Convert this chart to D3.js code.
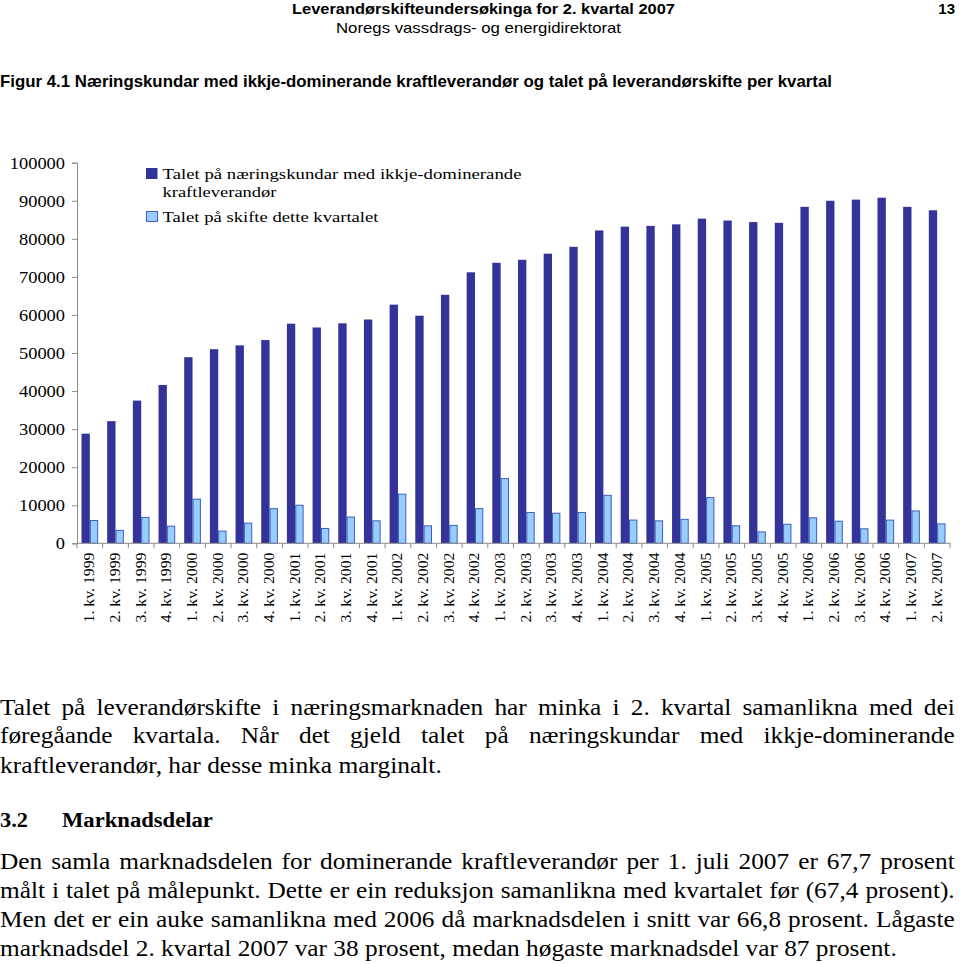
<!DOCTYPE html>
<html>
<head>
<meta charset="utf-8">
<script src="https://cdn.jsdelivr.net/npm/d3@7"></script>
<style>
  html, body { margin: 0; padding: 0; background: #fff; }
  svg { display: block; }
</style>
</head>
<body>
<svg id="chart" width="960" height="964"></svg>
<script>
// ---------- DATA ----------
const categories = [
  "1. kv. 1999", "2. kv. 1999", "3. kv. 1999", "4. kv. 1999",
  "1. kv. 2000", "2. kv. 2000", "3. kv. 2000", "4. kv. 2000",
  "1. kv. 2001", "2. kv. 2001", "3. kv. 2001", "4. kv. 2001",
  "1. kv. 2002", "2. kv. 2002", "3. kv. 2002", "4. kv. 2002",
  "1. kv. 2003", "2. kv. 2003", "3. kv. 2003", "4. kv. 2003",
  "1. kv. 2004", "2. kv. 2004", "3. kv. 2004", "4. kv. 2004",
  "1. kv. 2005", "2. kv. 2005", "3. kv. 2005", "4. kv. 2005",
  "1. kv. 2006", "2. kv. 2006", "3. kv. 2006", "4. kv. 2006",
  "1. kv. 2007", "2. kv. 2007"
];
const customers = [
  28800, 32100, 37500, 41600,
  48900, 51000, 52000, 53400,
  57700, 56700, 57800, 58800,
  62700, 59800, 65300, 71200,
  73700, 74500, 76100, 77900,
  82200, 83200, 83400, 83800,
  85300, 84800, 84400, 84200,
  88400, 90000, 90300, 90800,
  88400, 87500
];
const switches = [
  6000, 3400, 6800, 4500,
  11600, 3200, 5300, 9100,
  10000, 3900, 6900, 5900,
  12900, 4600, 4700, 9100,
  17000, 8100, 7900, 8100,
  12600, 6100, 5900, 6300,
  12000, 4600, 3000, 5000,
  6700, 5800, 3800, 6100,
  8500, 5100
];
const yTicks = [0, 10000, 20000, 30000, 40000, 50000, 60000, 70000, 80000, 90000, 100000];
const seriesNames = ["Talet på  næringskundar med ikkje-dominerande|kraftleverandør", "Talet på skifte dette kvartalet"];

const headerTitle = "Leverandørskifteundersøkinga for 2. kvartal 2007";
const headerSub = "Noregs vassdrags- og energidirektorat";
const pageNo = "13";
const figTitle = "Figur 4.1 Næringskundar med ikkje-dominerande kraftleverandør og talet på leverandørskifte per kvartal";
const para1 = [
  "Talet på leverandørskifte i næringsmarknaden har minka i 2. kvartal samanlikna med dei",
  "føregåande kvartala. Når det gjeld talet på næringskundar med ikkje-dominerande",
  "kraftleverandør, har desse minka marginalt."
];
const heading = ["3.2", "Marknadsdelar"];
const para2 = [
  "Den samla marknadsdelen for dominerande kraftleverandør per 1. juli 2007 er 67,7 prosent",
  "målt i talet på målepunkt. Dette er ein reduksjon samanlikna med kvartalet før (67,4 prosent).",
  "Men det er ein auke samanlikna med 2006 då marknadsdelen i snitt var 66,8 prosent. Lågaste",
  "marknadsdel 2. kvartal 2007 var 38 prosent, medan høgaste marknadsdel var 87 prosent."
];

// ---------- DRAW ----------
const svg = d3.select("#chart");
const SANS = "'Liberation Sans', Arial, Helvetica, sans-serif";
const SERIF = "'Liberation Serif', 'Times New Roman', Times, serif";

function fitText(sel, width) {
  sel.attr("textLength", width).attr("lengthAdjust", "spacingAndGlyphs");
}

// Header
svg.append("text").attr("x", 292).attr("y", 14)
  .attr("font-family", SANS).attr("font-weight", "bold").attr("font-size", 15)
  .text(headerTitle).call(fitText, 383);
svg.append("text").attr("x", 336).attr("y", 33)
  .attr("font-family", SANS).attr("font-size", 15)
  .text(headerSub).call(fitText, 285);
svg.append("text").attr("x", 955).attr("y", 14).attr("text-anchor", "end")
  .attr("font-family", SANS).attr("font-weight", "bold").attr("font-size", 15)
  .text(pageNo);

// Figure title
svg.append("text").attr("x", 0).attr("y", 87)
  .attr("font-family", SANS).attr("font-weight", "bold").attr("font-size", 16.5)
  .text(figTitle).call(fitText, 832);

// Chart scales
const x0 = d3.scaleBand().domain(categories).range([77, 950])
  .paddingInner(0.35).paddingOuter(0.175);
const x1 = d3.scaleBand().domain([0, 1]).range([0, x0.bandwidth()]);
const y = d3.scaleLinear().domain([0, 100000]).range([543.3, 162.7]);

const axisColor = "#8c8c8c";

// Y axis
const yAxis = svg.append("g").attr("transform", "translate(77,0)")
  .call(d3.axisLeft(y).tickValues(yTicks).tickSize(5).tickPadding(7).tickFormat(d3.format("d")));
yAxis.select(".domain").attr("stroke", axisColor);
yAxis.selectAll(".tick line").attr("stroke", axisColor);
yAxis.selectAll(".tick text")
  .attr("font-family", SERIF).attr("font-size", 17).attr("fill", "#000")
  .each(function (d) {
    const s = d3.format("d")(d);
    d3.select(this).attr("textLength", s.length * 9.2).attr("lengthAdjust", "spacingAndGlyphs");
  });

// Bars
const groups = svg.append("g").selectAll("g").data(categories).join("g")
  .attr("transform", d => `translate(${x0(d)},0)`);
groups.append("rect")
  .attr("x", x1(0)).attr("width", x1.bandwidth())
  .attr("y", (d, i) => y(customers[i]))
  .attr("height", (d, i) => y(0) - y(customers[i]))
  .attr("fill", "#333399");
groups.append("rect")
  .attr("x", x1(1) + 0.5).attr("width", x1.bandwidth() - 1)
  .attr("y", (d, i) => y(switches[i]))
  .attr("height", (d, i) => y(0) - y(switches[i]))
  .attr("fill", "#99ccff").attr("stroke", "#3a5fc0").attr("stroke-width", 1);

// X axis
const step = x0.step();
const xg = svg.append("g");
xg.append("line").attr("x1", 77).attr("x2", 950.8).attr("y1", y(0)).attr("y2", y(0)).attr("stroke", axisColor);
const boundaries = d3.range(categories.length + 1).map(i => 77 + i * step);
xg.selectAll("line.tk").data(boundaries).join("line").attr("class", "tk")
  .attr("x1", d => d).attr("x2", d => d).attr("y1", y(0)).attr("y2", y(0) + 5)
  .attr("stroke", axisColor);
xg.selectAll("text").data(categories).join("text")
  .attr("transform", d => `translate(${x0(d) + x0.bandwidth() / 2 - 1},552.5) rotate(-90)`)
  .attr("text-anchor", "end").attr("dy", "0.35em")
  .attr("font-family", SERIF).attr("font-size", 15.5)
  .text(d => d).call(fitText, 70);

// Legend
const leg = svg.append("g");
leg.append("rect").attr("x", 146).attr("y", 168).attr("width", 11.5).attr("height", 11)
  .attr("fill", "#333399");
const l1 = seriesNames[0].split("|");
leg.append("text").attr("x", 162.5).attr("y", 179).attr("font-family", SERIF).attr("font-size", 15.5)
  .text(l1[0]).call(fitText, 359);
leg.append("text").attr("x", 162.5).attr("y", 196.5).attr("font-family", SERIF).attr("font-size", 15.5)
  .text(l1[1]).call(fitText, 114);
leg.append("rect").attr("x", 146.5).attr("y", 211.5).attr("width", 11).attr("height", 10)
  .attr("fill", "#99ccff").attr("stroke", "#3a5fc0");
leg.append("text").attr("x", 162.5).attr("y", 221.5).attr("font-family", SERIF).attr("font-size", 15.5)
  .text(seriesNames[1]).call(fitText, 216);

// Body text
const BODY_SIZE = 23;
function makeLine(str, opts = {}) {
  return svg.append("text")
    .attr("font-family", SERIF).attr("font-size", opts.size || BODY_SIZE)
    .attr("font-weight", opts.bold ? "bold" : "normal")
    .text(str);
}
// horizontal stretch derived from the last (unjustified) line of paragraph 2
const probe = makeLine(para2[3]);
const SX = 897 / probe.node().getComputedTextLength();
probe.remove();

function bodyLine(str, xPos, yPos, width, justify, opts = {}) {
  const t = makeLine(str, opts);
  const natural = t.node().getComputedTextLength();
  let sx = SX;
  if (justify) {
    const gaps = (str.match(/ /g) || []).length;
    const extra = width / sx - natural;
    if (gaps > 0 && extra > 0) t.attr("word-spacing", (extra / gaps).toFixed(3) + "px");
    else sx = width / natural;
  } else {
    sx = width / natural;
  }
  t.attr("transform", `translate(${xPos},${yPos}) scale(${sx.toFixed(4)},1)`);
  return t;
}

bodyLine(para1[0], 0, 715, 955, true);
bodyLine(para1[1], 0, 743, 955, true);
bodyLine(para1[2], 0, 773, 442, false);

bodyLine(heading[0], 0, 827, 28, false, { bold: true, size: 22 });
bodyLine(heading[1], 62, 827, 151, false, { bold: true, size: 22 });

bodyLine(para2[0], 0, 869, 955, true);
bodyLine(para2[1], 0, 898, 955, true);
bodyLine(para2[2], 0, 927, 955, true);
bodyLine(para2[3], 0, 956, 897, false);
</script>
</body>
</html>
